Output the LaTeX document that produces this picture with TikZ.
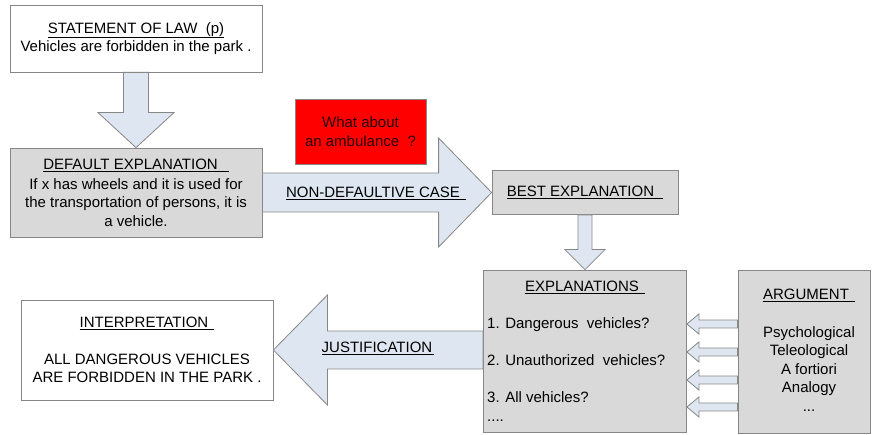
\documentclass[tikz,border=0pt]{standalone}
\usepackage{fontspec}
\setmainfont{Liberation Sans}
\usetikzlibrary{calc}
\definecolor{boxgray}{RGB}{217,217,217}
\definecolor{edgegray}{RGB}{135,135,135}
\definecolor{arrowfill}{RGB}{222,231,241}
\newcommand{\ul}[2][6pt]{\underline{#2\hspace{#1}}}

\begin{document}
\begin{tikzpicture}[x=1pt, y=-1pt, font=\fontsize{15}{18.5}\selectfont,
	whitebox/.style={draw=edgegray, fill=white, line width=0.8pt, align=center, inner sep=0pt},
	graybox/.style={whitebox, fill=boxgray},
	blockarrow/.style={draw=edgegray, fill=arrowfill, line width=0.8pt},
	txt/.style={inner sep=0pt}]
			\useasboundingbox (0,0) rectangle (873,435);
			\node[whitebox, minimum width=252pt, minimum height=67pt](law) at (136,38.5){\ul[0pt]{STATEMENT OF LAW\ \ (p)}\\Vehicles are forbidden in the park .};
			\node[graybox, minimum width=252pt, minimum height=89pt](deflt) at (136,192.5){\ul[11pt]{DEFAULT EXPLANATION}\\[1.5pt]If x has wheels and it is used for\\the transportation of persons, it is\\a vehicle.};
			\node[whitebox, fill=red, text=black!85!red, minimum width=131pt, minimum height=65pt](ambulance) at (360.5,131.5){What about\\an ambulance\ \ ?};
			\node[graybox, minimum width=186pt, minimum height=44pt](best) at (585,192.5){\ul[9pt]{BEST EXPLANATION}};
			\node[graybox, minimum width=203pt, minimum height=162pt](expl) at (585,351){};
			\node[graybox, minimum width=132pt, minimum height=163pt](arg) at (804,351.5){};
			\node[whitebox, minimum width=252pt, minimum height=100pt](interp) at (147,350){\ul{INTERPRETATION}\\[18.5pt]ALL DANGEROUS VEHICLES\\ARE FORBIDDEN IN THE PARK .};
			\draw[blockarrow] ($(law.south)+(-12.5,0)$) -- ($(deflt.north)+(-12.5,-35)$) -- ++(-25.5,0) -- (deflt.north) -- ++(38,-35) -- ++(-25.5,0) -- ($(law.south)+(12.5,0)$) -- cycle;
			\draw[blockarrow] ($(deflt.east)+(0,-19.5)$) -- ($(best.west)+(-53,-19.5)$) -- ++(0,-35) -- (best.west) -- ++(-53,54.5) -- ++(0,-35) -- ($(deflt.east)+(0,19.5)$) -- cycle;
			\draw[blockarrow] ($(best.south)+(-7,0)$) -- ($(expl.north)+(-7,-20)$) -- ++(-13,0) -- (expl.north) -- ++(20,-20) -- ++(-13,0) -- ($(best.south)+(7,0)$) -- cycle;
			\draw[blockarrow] (interp.east) -- ++(54,-55) -- ++(0,36) -- ($(expl.west |- interp.east)+(0,-19)$) -- ++(0,38) -- ($(interp.east)+(54,19)$) -- ++(0,36) -- cycle;
			\foreach \y in {324,352,380,407}
				\draw[blockarrow] (expl.east |- 0,\y) -- ++(12,-10) -- ++(0,6) -- ($(arg.west |- 0,\y)+(0,-4)$) -- ++(0,8) -- ($(expl.east |- 0,\y)+(12,4)$) -- ++(0,6) -- cycle;
			\node[txt, anchor=base](ndcase) at (376,197.5){\ul{NON-DEFAULTIVE CASE}};
			\node[txt, anchor=base](justif) at (378,353){\ul[2pt]{JUSTIFICATION}};
			\node[txt, anchor=base](expltitle) at (585,292){\ul{EXPLANATIONS}};
			\node[txt, anchor=base west](e1) at (487,329){1. Dangerous\ \ vehicles?};
			\node[txt, anchor=base west](e2) at (487,366){2. Unauthorized\ \ vehicles?};
			\node[txt, anchor=base west](e3) at (487,403){3. All vehicles?};
			\node[txt, anchor=base west](e4) at (487,421){....};
			\node[txt, align=center](argtext) at (809,350.5){\ul{ARGUMENT}\\[19pt]Psychological\\Teleological\\A fortiori\\Analogy\\...};
\end{tikzpicture}
\end{document}
